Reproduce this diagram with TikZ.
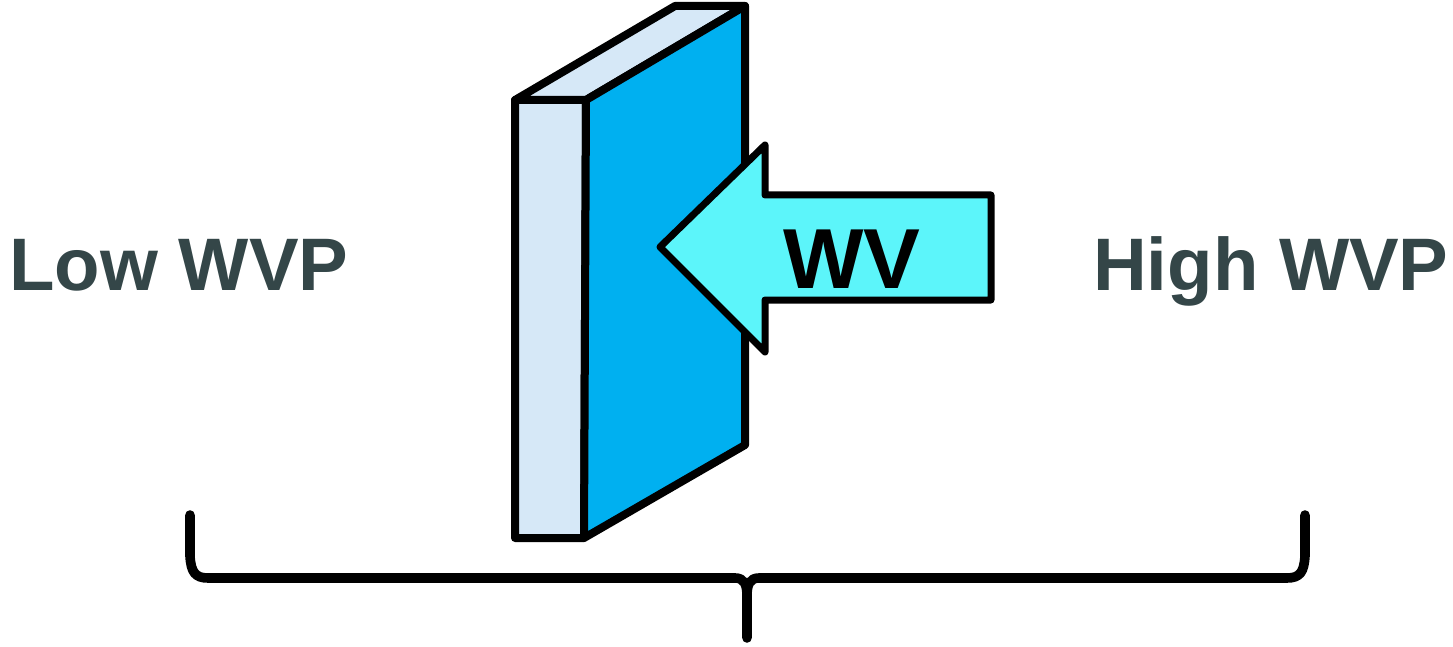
\documentclass[tikz,border=0pt]{standalone}
\usepackage{fontspec}
\setmainfont{Liberation Sans}
\usepackage{xcolor}
\definecolor{wallside}{RGB}{214,232,247}
\definecolor{wallface}{RGB}{0,176,240}
\definecolor{vapour}{RGB}{92,245,250}
\definecolor{labelgrey}{RGB}{52,70,72}

\begin{document}
\begin{tikzpicture}[x=0.5pt,y=-0.5pt,line join=round,
  wall/.style={draw=black,line width=4pt},
  flow/.style={draw=black,fill=vapour,line width=3.5pt},
  pressure/.style={font=\fontsize{37.2}{44}\selectfont\bfseries,text=labelgrey,inner sep=0pt}]
  \useasboundingbox (0,0) rectangle (1453,647);

  % wall corners
  \coordinate (ftl) at (515,100);
  \coordinate (ftr) at (586,100);
  \coordinate (fbl) at (515,538);
  \coordinate (fbr) at (584,538);
  \coordinate (btl) at (675,6);
  \coordinate (btr) at (745,6);
  \coordinate (bbr) at (745,445);

  \draw[wall,fill=wallside] (ftl) -- (ftr) -- (fbr) -- (fbl) -- cycle;
  \draw[wall,fill=wallside] (ftl) -- (btl) -- (btr) -- (ftr) -- cycle;
  \draw[wall,fill=wallface] (ftr) -- (btr) -- (bbr) -- (fbr) -- cycle;

  % vapour arrow
  \draw[flow] (660,247) -- (765,145) -- (765,195) -- (991,195)
    -- (991,300) -- (765,300) -- (765,352) -- cycle;
  \node[font=\fontsize{42.6}{50}\selectfont\bfseries,inner sep=0pt] (wv) at (852,259) {WV};

  % labels
  \node[pressure,anchor=base west] (low) at (9,291) {Low WVP};
  \node[pressure,anchor=base east] (high) at (1449,291) {High WVP};

  % brace
  \coordinate (bl) at (190,515);
  \coordinate (br) at (1305,515);
  \coordinate (tip) at (747,638);
  \draw[line width=4.8pt,line cap=round] (bl) -- (190,556)
    .. controls (191,572) and (195,578) .. (208,578) -- (735,578)
    .. controls (744,578) and (747,584) .. (747,596) -- (tip);
  \draw[line width=4.8pt,line cap=round] (br) -- (1305,556)
    .. controls (1304,572) and (1300,578) .. (1287,578) -- (759,578)
    .. controls (750,578) and (747,584) .. (747,596);
\end{tikzpicture}
\end{document}
